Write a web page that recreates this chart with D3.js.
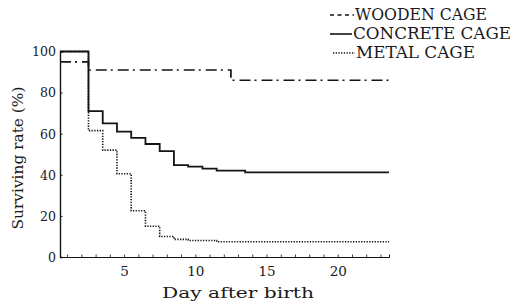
<!DOCTYPE html>
<html>
<head>
<meta charset="utf-8">
<script src="https://cdn.jsdelivr.net/npm/d3@7"></script>
<style>
  html, body { margin: 0; padding: 0; background: #fff; }
  svg { display: block; }
  svg text { font-family: "DejaVu Serif", serif; fill: #1a1a1a; }
</style>
</head>
<body>
<svg id="chart" width="516" height="306"></svg>
<script>
// ---- data ----
const woodenDays   = [0.5, 2.5, 12.5, 23.6];
const woodenVals   = [95, 91, 86, 86];
const concreteDays = [0.5, 2.5, 3.5, 4.5, 5.5, 6.5, 7.5, 8.5, 9.5, 10.5, 11.5, 13.5, 23.6];
const concreteVals = [100, 71, 65, 61, 58, 55, 51.5, 44.7, 44, 43, 42, 41.2, 41.2];
const metalDays    = [0.5, 2.5, 3.5, 4.5, 5.5, 6.5, 7.5, 8.5, 9.5, 11.5, 23.6];
const metalVals    = [100, 61.5, 52, 40.5, 22.5, 15, 10, 8.6, 8, 7.4, 7.4];
const seriesNames  = ["WOODEN CAGE", "CONCRETE CAGE", "METAL CAGE"];
const xTickLabels  = [5, 10, 15, 20];
const yTickLabels  = [0, 20, 40, 60, 80, 100];
const xMinorTicks  = d3.range(1, 24);

const svg = d3.select("#chart");
const x = d3.scaleLinear().domain([0.5, 23.6]).range([60, 389]);
const y = d3.scaleLinear().domain([0, 100]).range([257, 51.5]);

const ink = "#141414";
const FONT = "DejaVu Serif";

// axes
const xAxisG = svg.append("g").attr("transform", `translate(0,${y(0)})`);
xAxisG.call(d3.axisBottom(x).tickValues(xMinorTicks).tickSize(-2.5).tickFormat(""))
  .call(g => g.select(".domain").attr("stroke", ink).attr("stroke-width", 1));
xAxisG.selectAll(".tick line").attr("stroke", ink).attr("stroke-width", 0.8);
xAxisG.append("g").call(d3.axisBottom(x).tickValues(xTickLabels).tickSize(0).tickPadding(9))
  .call(g => g.select(".domain").remove())
  .selectAll("text").attr("font-size", 13.5).attr("font-family", FONT).attr("fill", ink);

const yAxisG = svg.append("g").attr("transform", `translate(${x(0.5)},0)`);
yAxisG.call(d3.axisLeft(y).tickValues(yTickLabels).tickSize(-2.5).tickPadding(4))
  .call(g => g.select(".domain").attr("stroke", ink).attr("stroke-width", 1.4));
yAxisG.selectAll(".tick line").attr("stroke", ink);
yAxisG.selectAll(".tick text").attr("font-size", 13.5).attr("font-family", FONT).attr("fill", ink)
  .attr("textLength", d => d === 100 ? 24 : (d === 0 ? 8 : 16)).attr("lengthAdjust", "spacingAndGlyphs");

// axis titles
svg.append("text")
  .attr("x", 238).attr("y", 298)
  .attr("text-anchor", "middle")
  .attr("font-size", 15)
  .attr("textLength", 152).attr("lengthAdjust", "spacingAndGlyphs")
  .text("Day after birth");

svg.append("text")
  .attr("transform", "translate(23,158) rotate(-90)")
  .attr("text-anchor", "middle")
  .attr("font-size", 15)
  .attr("textLength", 143).attr("lengthAdjust", "spacingAndGlyphs")
  .text("Surviving rate (%)");

// lines
const line = d3.line().x(d => x(d[0])).y(d => y(d[1])).curve(d3.curveStepAfter);
const series = [
  { name: seriesNames[0], pts: d3.zip(woodenDays, woodenVals), dash: "11,4,2,5", w: 1.7 },
  { name: seriesNames[1], pts: d3.zip(concreteDays, concreteVals), dash: null, w: 1.8 },
  { name: seriesNames[2], pts: d3.zip(metalDays, metalVals), dash: "1.3,1.4", w: 1.6 }
];
svg.append("g").selectAll("path").data(series).join("path")
  .attr("d", d => line(d.pts))
  .attr("fill", "none")
  .attr("stroke", ink)
  .attr("stroke-width", d => d.w)
  .attr("stroke-dasharray", d => d.dash);

// legend
const legendDash = ["4,3.5", null, "1.3,1.4"];
const legendTextLen = [132, 158, 119];
const legendX0 = [330, 330, 333];
const legendTextX = [355, 353, 356];
const legendY = [14, 33, 52];
const lg = svg.append("g");
series.forEach((s, i) => {
  lg.append("line")
    .attr("x1", legendX0[i]).attr("x2", legendTextX[i] - 1)
    .attr("y1", legendY[i] + 1).attr("y2", legendY[i] + 1)
    .attr("stroke", ink).attr("stroke-width", 1.6)
    .attr("stroke-dasharray", legendDash[i]);
  lg.append("text")
    .attr("x", legendTextX[i]).attr("y", legendY[i] + 6)
    .attr("font-size", 16)
    .attr("textLength", legendTextLen[i]).attr("lengthAdjust", "spacingAndGlyphs")
    .text(s.name);
});
</script>
</body>
</html>
